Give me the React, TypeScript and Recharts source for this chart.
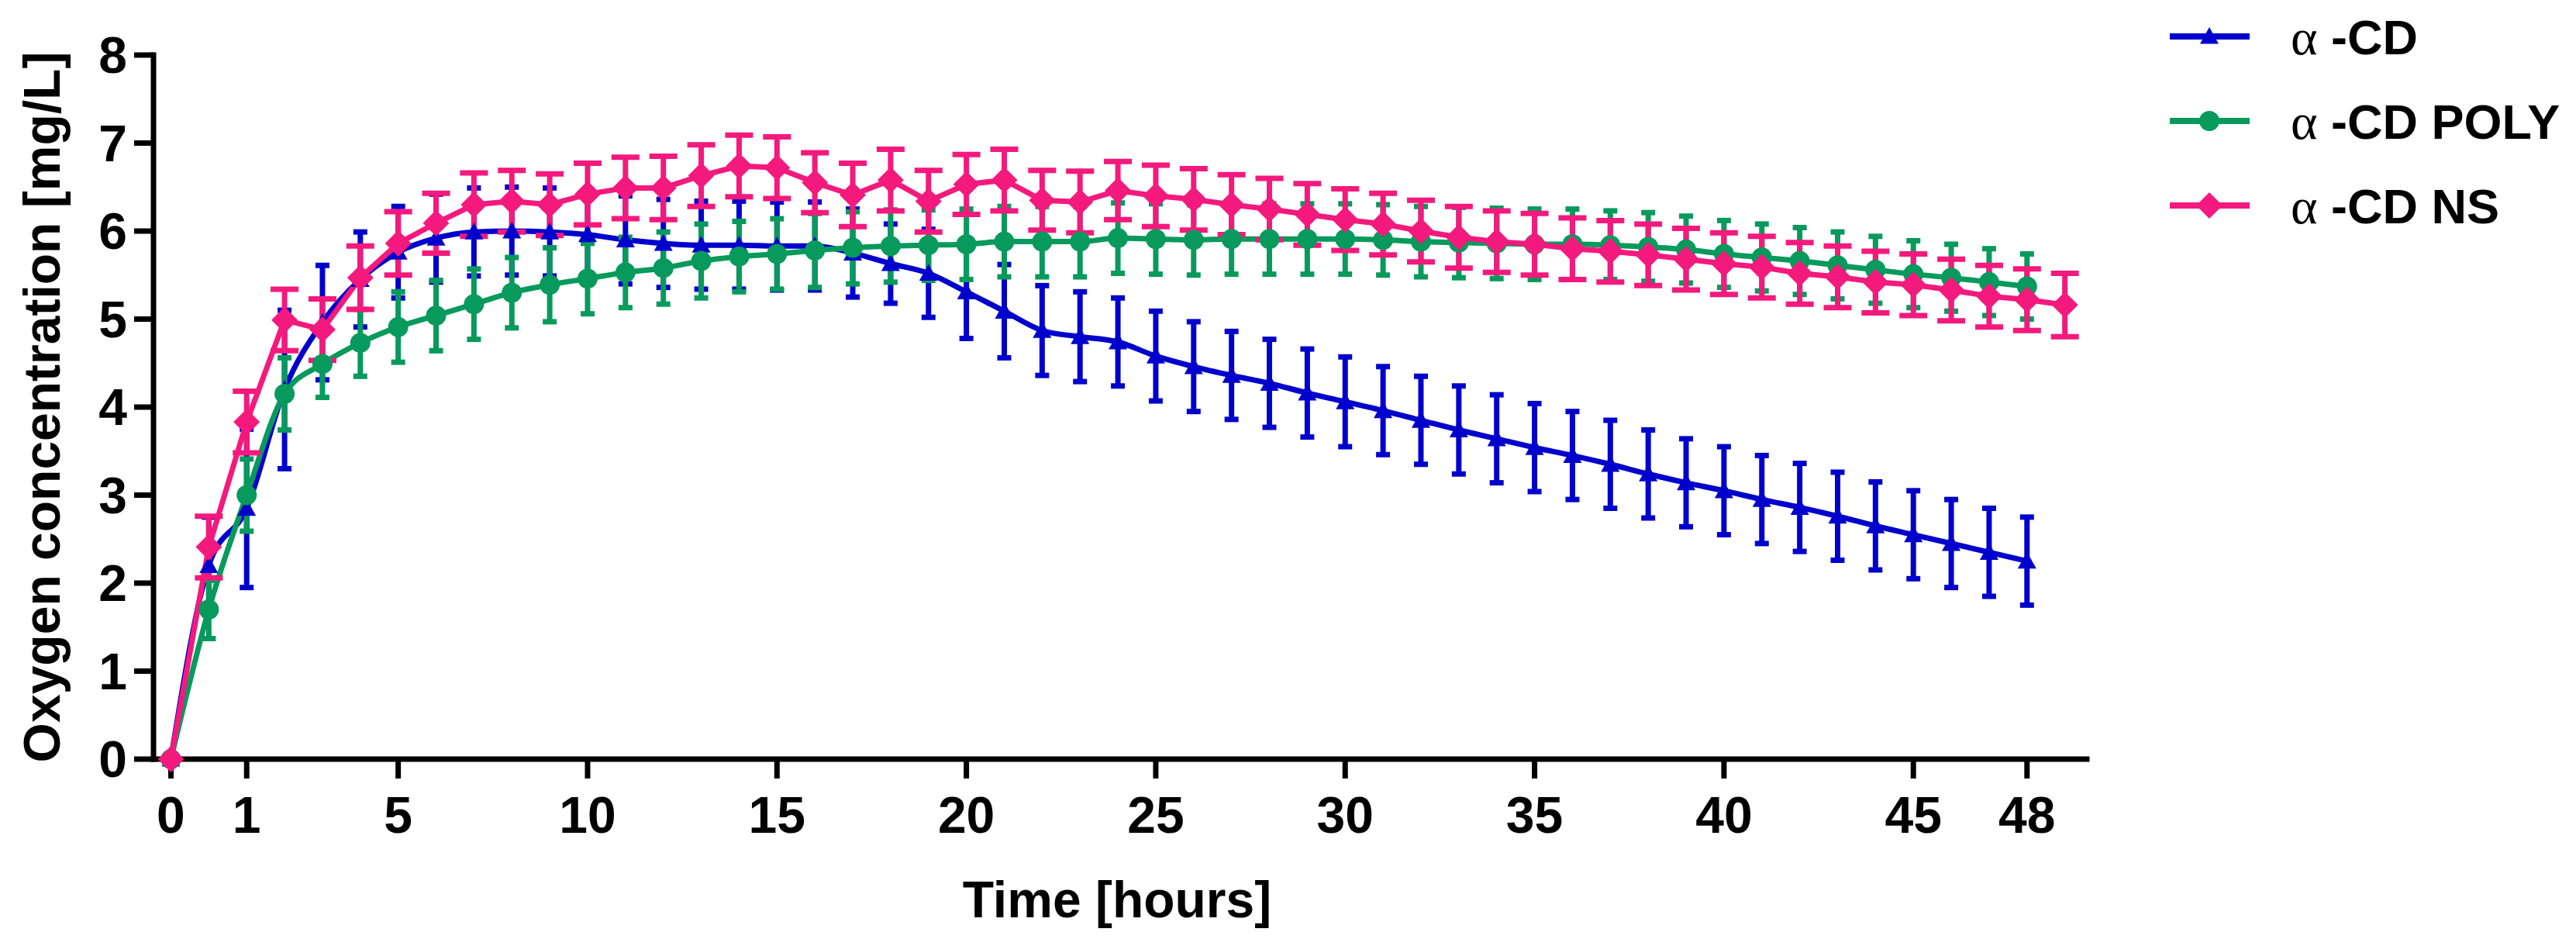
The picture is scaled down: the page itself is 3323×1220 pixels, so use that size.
import React from 'react';
import { LineChart, Line, XAxis, YAxis, ErrorBar, Legend } from 'recharts';

if (typeof document !== 'undefined') {
  document.body.style.margin = '0';
}

// ---------- data ----------
const hours = [0, 0.5, 1, 2, 3, 4, 5, 6, 7, 8, 9, 10, 11, 12, 13, 14, 15, 16, 17, 18, 19, 20,
  21, 22, 23, 24, 25, 26, 27, 28, 29, 30, 31, 32, 33, 34, 35, 36, 37, 38, 39, 40, 41, 42, 43,
  44, 45, 46, 47, 48, 49];

const seriesNames = ['α -CD', 'α -CD POLY', 'α -CD NS'];

const cdValues = [0, 2.2, 2.85, 4.2, 4.96, 5.45, 5.76, 5.92, 5.99, 6.0,
  5.99, 5.96, 5.9, 5.86, 5.84, 5.84, 5.83, 5.83, 5.75, 5.63,
  5.52, 5.31, 5.09, 4.87, 4.8, 4.74, 4.58, 4.46, 4.36, 4.27,
  4.16, 4.06, 3.96, 3.85, 3.74, 3.64, 3.54, 3.45, 3.35, 3.24,
  3.14, 3.05, 2.95, 2.86, 2.76, 2.65, 2.55, 2.45, 2.35, 2.25, null];
const cdErrors = [0, 0.55, 0.9, 0.9, 0.65, 0.54, 0.52, 0.5, 0.5, 0.5,
  0.5, 0.5, 0.5, 0.5, 0.5, 0.5, 0.5, 0.5, 0.5, 0.45,
  0.5, 0.53, 0.53, 0.51, 0.51, 0.5, 0.51, 0.51, 0.5, 0.5,
  0.5, 0.51, 0.5, 0.5, 0.5, 0.5, 0.5, 0.5, 0.5, 0.5,
  0.5, 0.5, 0.5, 0.5, 0.5, 0.5, 0.5, 0.5, 0.5, 0.5, null];

const polyValues = [0, 1.7, 3.0, 4.15, 4.49, 4.73, 4.91, 5.04, 5.17, 5.3,
  5.39, 5.46, 5.53, 5.58, 5.66, 5.71, 5.74, 5.78, 5.81, 5.83,
  5.84, 5.85, 5.88, 5.88, 5.88, 5.92, 5.91, 5.9, 5.91, 5.91,
  5.91, 5.91, 5.9, 5.88, 5.87, 5.86, 5.85, 5.85, 5.84, 5.82,
  5.79, 5.74, 5.7, 5.66, 5.61, 5.56, 5.51, 5.47, 5.42, 5.37, null];
const polyErrors = [0, 0.33, 0.41, 0.41, 0.38, 0.38, 0.4, 0.4, 0.4, 0.4,
  0.42, 0.4, 0.4, 0.41, 0.42, 0.4, 0.4, 0.42, 0.41, 0.41,
  0.4, 0.4, 0.4, 0.4, 0.4, 0.4, 0.4, 0.4, 0.4, 0.4,
  0.4, 0.4, 0.4, 0.4, 0.4, 0.4, 0.4, 0.4, 0.39, 0.39,
  0.38, 0.38, 0.38, 0.38, 0.38, 0.38, 0.38, 0.38, 0.38, 0.37, null];

const nsValues = [0, 2.41, 3.83, 4.99, 4.88, 5.47, 5.86, 6.09, 6.3, 6.34,
  6.3, 6.42, 6.49, 6.49, 6.63, 6.74, 6.72, 6.55, 6.41, 6.58,
  6.34, 6.53, 6.58, 6.35, 6.33, 6.46, 6.4, 6.36, 6.3, 6.25,
  6.19, 6.13, 6.08, 6.0, 5.93, 5.88, 5.85, 5.8, 5.77, 5.73,
  5.68, 5.63, 5.59, 5.52, 5.48, 5.42, 5.39, 5.33, 5.26, 5.22, 5.16];
const nsErrors = [0, 0.35, 0.35, 0.35, 0.35, 0.36, 0.36, 0.34, 0.36, 0.35,
  0.35, 0.35, 0.35, 0.36, 0.35, 0.35, 0.35, 0.34, 0.36, 0.35,
  0.35, 0.34, 0.35, 0.34, 0.35, 0.33, 0.35, 0.35, 0.34, 0.35,
  0.35, 0.35, 0.35, 0.35, 0.35, 0.35, 0.35, 0.35, 0.35, 0.35,
  0.35, 0.35, 0.35, 0.35, 0.35, 0.35, 0.35, 0.35, 0.35, 0.35, 0.36];

const xTickHours = [0, 1, 5, 10, 15, 20, 25, 30, 35, 40, 45, 48];
const yTicks = [0, 1, 2, 3, 4, 5, 6, 7, 8];

// ---------- styling ----------
const BLUE = '#0000CD';
const GREEN = '#089A5C';
const PINK = '#F4197D';
const FONT = '"Liberation Sans", Arial, Helvetica, sans-serif';
const SERIF = '"Liberation Serif", "Times New Roman", serif';

const data = hours.map((h, i) => ({
  idx: i,
  hour: h,
  cd: cdValues[i],
  cdErr: cdErrors[i],
  poly: polyValues[i],
  polyErr: polyErrors[i],
  ns: nsValues[i],
  nsErr: nsErrors[i],
}));

const xTicks = xTickHours.map((h) => hours.indexOf(h));

// ---------- markers ----------
const markerShape = (key: string, cx: number, cy: number, color: string) => {
  if (key === 'cd') {
    const s = 12;
    return <polygon points={`${cx},${cy - s} ${cx + s},${cy + s * 0.8} ${cx - s},${cy + s * 0.8}`} fill={color} />;
  }
  if (key === 'poly') {
    return <circle cx={cx} cy={cy} r={13} fill={color} />;
  }
  const d = 17;
  return <polygon points={`${cx},${cy - d} ${cx + d},${cy} ${cx},${cy + d} ${cx - d},${cy}`} fill={color} />;
};

const makeDot = (key: string, color: string) => (props: any) => {
  const { cx, cy, index, value } = props;
  if (cx == null || cy == null || value == null || Number.isNaN(cy)) return <g key={`${key}-${index}`} />;
  return <g key={`${key}-${index}`}>{markerShape(key, cx, cy, color)}</g>;
};

// ---------- titles ----------
const renderYTitle = (props: any) => {
  const vb = props.viewBox || { y: 71, height: 908 };
  const cy = vb.y + vb.height / 2;
  const bx = 77;
  return (
    <text x={bx} y={cy} transform={`rotate(-90, ${bx}, ${cy})`} textAnchor="middle"
      fontSize={66} fontWeight="bold" fontFamily={FONT} fill="#000">
      Oxygen concentration [mg/L]
    </text>
  );
};

const renderXTitle = (props: any) => {
  const vb = props.viewBox || { x: 198, y: 979, width: 2494 };
  return (
    <text x={vb.x + vb.width / 2 - 4} y={vb.y + 204} textAnchor="middle"
      fontSize={66} fontWeight="bold" fontFamily={FONT} fill="#000">
      Time [hours]
    </text>
  );
};

// ---------- legend ----------
const LegendContent = (props: any) => {
  const payload = [...(props.payload || [])].sort(
    (a: any, b: any) => seriesNames.indexOf(String(a.value)) - seriesNames.indexOf(String(b.value))
  );
  return (
    <svg width={533} height={330} style={{ display: 'block' }}>
      {payload.map((p: any, i: number) => {
        const y = 47 + i * 109;
        const name = String(p.value);
        const first = name.charAt(0);
        const rest = name.slice(1);
        return (
          <g key={name}>
            <line x1={9} x2={112} y1={y} y2={y} stroke={p.color} strokeWidth={8} />
            {markerShape(String(p.dataKey), 60, y, p.color)}
            <text x={165} y={y + 23} fontSize={63} fontWeight="bold" fontFamily={FONT} fill="#000">
              <tspan fontFamily={SERIF} fontWeight="normal" fontSize={66}>{first}</tspan>
              <tspan>{rest}</tspan>
            </text>
          </g>
        );
      })}
    </svg>
  );
};

const W = 3323;
const H = 1220;

export default function App() {
  return (
    <div style={{ width: W, height: H, position: 'relative', overflow: 'hidden', background: '#fff' }}>
      <LineChart
        width={W}
        height={H}
        data={data}
        margin={{ top: 71, right: W - 2692, left: 0, bottom: H - 979 - 100 }}
      >
        <XAxis
          dataKey="idx"
          type="number"
          domain={[-0.46, 50.58]}
          ticks={xTicks}
          interval={0}
          tickFormatter={(v: number) => String(hours[v])}
          height={100}
          axisLine={{ stroke: '#000', strokeWidth: 7, strokeLinecap: 'square' }}
          tickLine={{ stroke: '#000', strokeWidth: 7 }}
          tickSize={25}
          tickMargin={23}
          tick={{ fontSize: 66, fontWeight: 'bold', fill: '#000', fontFamily: FONT }}
          label={{ content: renderXTitle }}
        />
        <YAxis
          type="number"
          domain={[0, 8]}
          ticks={yTicks}
          interval={0}
          width={198}
          axisLine={{ stroke: '#000', strokeWidth: 7, strokeLinecap: 'square' }}
          tickLine={{ stroke: '#000', strokeWidth: 7 }}
          tickSize={25}
          tickMargin={9}
          tick={{ fontSize: 66, fontWeight: 'bold', fill: '#000', fontFamily: FONT }}
          label={{ content: renderYTitle }}
        />
        <Legend
          layout="vertical"
          align="center"
          verticalAlign="middle"
          itemSorter={null as any}
          content={<LegendContent />}
          wrapperStyle={{ position: 'absolute', left: 2790, top: 0, width: 533, height: 330 }}
        />
        <Line
          dataKey="cd"
          name={seriesNames[0]}
          type="monotone"
          stroke={BLUE}
          strokeWidth={7}
          dot={makeDot('cd', BLUE)}
          activeDot={false}
          isAnimationActive={false}
        >
          <ErrorBar dataKey="cdErr" direction="y" width={9} strokeWidth={7} stroke={BLUE} isAnimationActive={false} />
        </Line>
        <Line
          dataKey="poly"
          name={seriesNames[1]}
          type="monotone"
          stroke={GREEN}
          strokeWidth={7}
          dot={makeDot('poly', GREEN)}
          activeDot={false}
          isAnimationActive={false}
        >
          <ErrorBar dataKey="polyErr" direction="y" width={9} strokeWidth={7} stroke={GREEN} isAnimationActive={false} />
        </Line>
        <Line
          dataKey="ns"
          name={seriesNames[2]}
          type="linear"
          stroke={PINK}
          strokeWidth={7}
          dot={makeDot('ns', PINK)}
          activeDot={false}
          isAnimationActive={false}
        >
          <ErrorBar dataKey="nsErr" direction="y" width={18} strokeWidth={7} stroke={PINK} isAnimationActive={false} />
        </Line>
      </LineChart>
    </div>
  );
}
